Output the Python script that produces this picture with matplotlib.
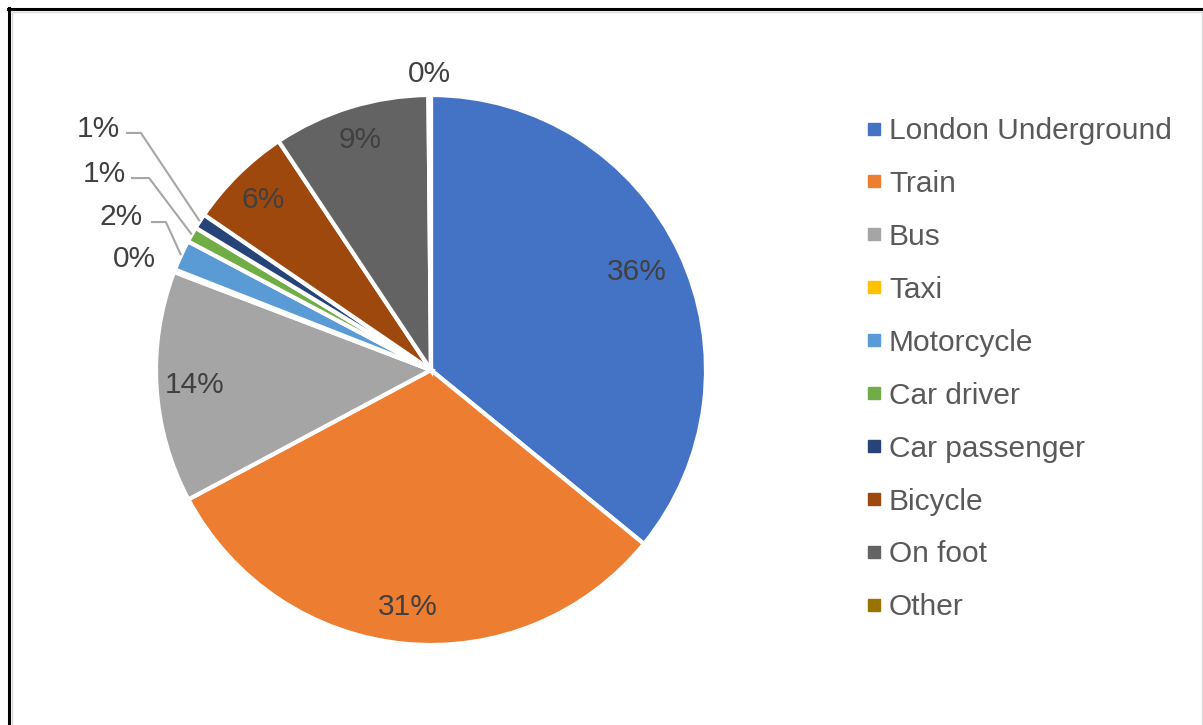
import numpy as np
import matplotlib.pyplot as plt
from matplotlib.lines import Line2D

# travel mode shares (%)
modes = ['London Underground', 'Train', 'Bus', 'Taxi', 'Motorcycle',
         'Car driver', 'Car passenger', 'Bicycle', 'On foot', 'Other']
shares = [35.9, 31.3, 13.6, 0.15, 1.8, 0.9, 0.9, 6.1, 9.2, 0.15]
colors = ['#4472C4', '#ED7D31', '#A5A5A5', '#FFC000', '#5B9BD5',
          '#70AD47', '#264478', '#9E480E', '#636363', '#997300']

plt.rcParams['font.family'] = ['Liberation Sans', 'DejaVu Sans']

W, H = 1203, 725
fig = plt.figure(figsize=(W / 100, H / 100), dpi=100)
fig.patch.set_facecolor('white')

# pie centre and radius in pixels
cx, cy, R, half = 431, 370, 275, 350
ax = fig.add_axes([(cx - half) / W, (H - cy - half) / H, 2 * half / W, 2 * half / H])
wedges, _ = ax.pie(shares, colors=colors, startangle=90, counterclock=False,
                   radius=1, wedgeprops=dict(edgecolor='white', linewidth=3))
lim = half / R
ax.set_xlim(-lim, lim)
ax.set_ylim(-lim, lim)
ax.axis('off')

total = sum(shares)
label_color = '#404040'
fs = 21.5

# radius used for the labels drawn inside the slices
inside_r = {0: 0.83, 1: 0.865, 2: 0.86, 7: 0.87, 8: 0.875}
# outside labels: text centre, and (line start x, elbow x, line y) for leader
outside = {
    3: ((-1.08, 0.405), None),
    4: ((-1.127, 0.558), (-1.018, -0.964, 0.538)),
    5: ((-1.189, 0.714), (-1.091, -1.025, 0.698)),
    6: ((-1.211, 0.878), (-1.109, -1.055, 0.862)),
    9: ((-0.007, 1.078), None),
}

for i, w in enumerate(wedges):
    pct = f'{shares[i] / total * 100:.0f}%'
    mid = np.deg2rad((w.theta1 + w.theta2) / 2)
    if i in inside_r:
        r = inside_r[i]
        ax.text(r * np.cos(mid), r * np.sin(mid), pct, ha='center', va='center',
                fontsize=fs, color=label_color)
    else:
        (tx, ty), lead = outside[i]
        ax.text(tx, ty, pct, ha='center', va='center', fontsize=fs,
                color=label_color, clip_on=False)
        if lead is not None:
            x0, xe, yl = lead
            ax.plot([x0, xe, np.cos(mid)], [yl, yl, np.sin(mid)],
                    color='#A6A6A6', lw=1.5, solid_capstyle='butt', clip_on=False)

# legend
handles = [Line2D([], [], marker='s', linestyle='', markersize=8, color=c)
           for c in colors]
fig.legend(handles, modes, loc='upper left', bbox_to_anchor=(865 / W, 1 - 117 / H),
           frameon=False, fontsize=fs, labelcolor='#595959', borderpad=0,
           borderaxespad=0, handlelength=0.6, handletextpad=0.2, labelspacing=0.835)

# chart frame (black top/left edge, faint grey inner line)
fig.add_artist(Line2D([8 / W, 1], [1 - 9 / H, 1 - 9 / H], transform=fig.transFigure,
                      color='black', lw=2.2))
fig.add_artist(Line2D([9 / W, 9 / W], [0, 1 - 8 / H], transform=fig.transFigure,
                      color='black', lw=2.2))
fig.add_artist(Line2D([11 / W, 1], [1 - 12 / H, 1 - 12 / H], transform=fig.transFigure,
                      color='#D9D9D9', lw=1))
fig.add_artist(Line2D([12 / W, 12 / W], [0, 1 - 11 / H], transform=fig.transFigure,
                      color='#D9D9D9', lw=1))
fig.add_artist(Line2D([1201.5 / W, 1201.5 / W], [0, 1 - 11 / H], transform=fig.transFigure,
                      color='#D9D9D9', lw=1))

fig.savefig('out.png', dpi=100, facecolor='white')
